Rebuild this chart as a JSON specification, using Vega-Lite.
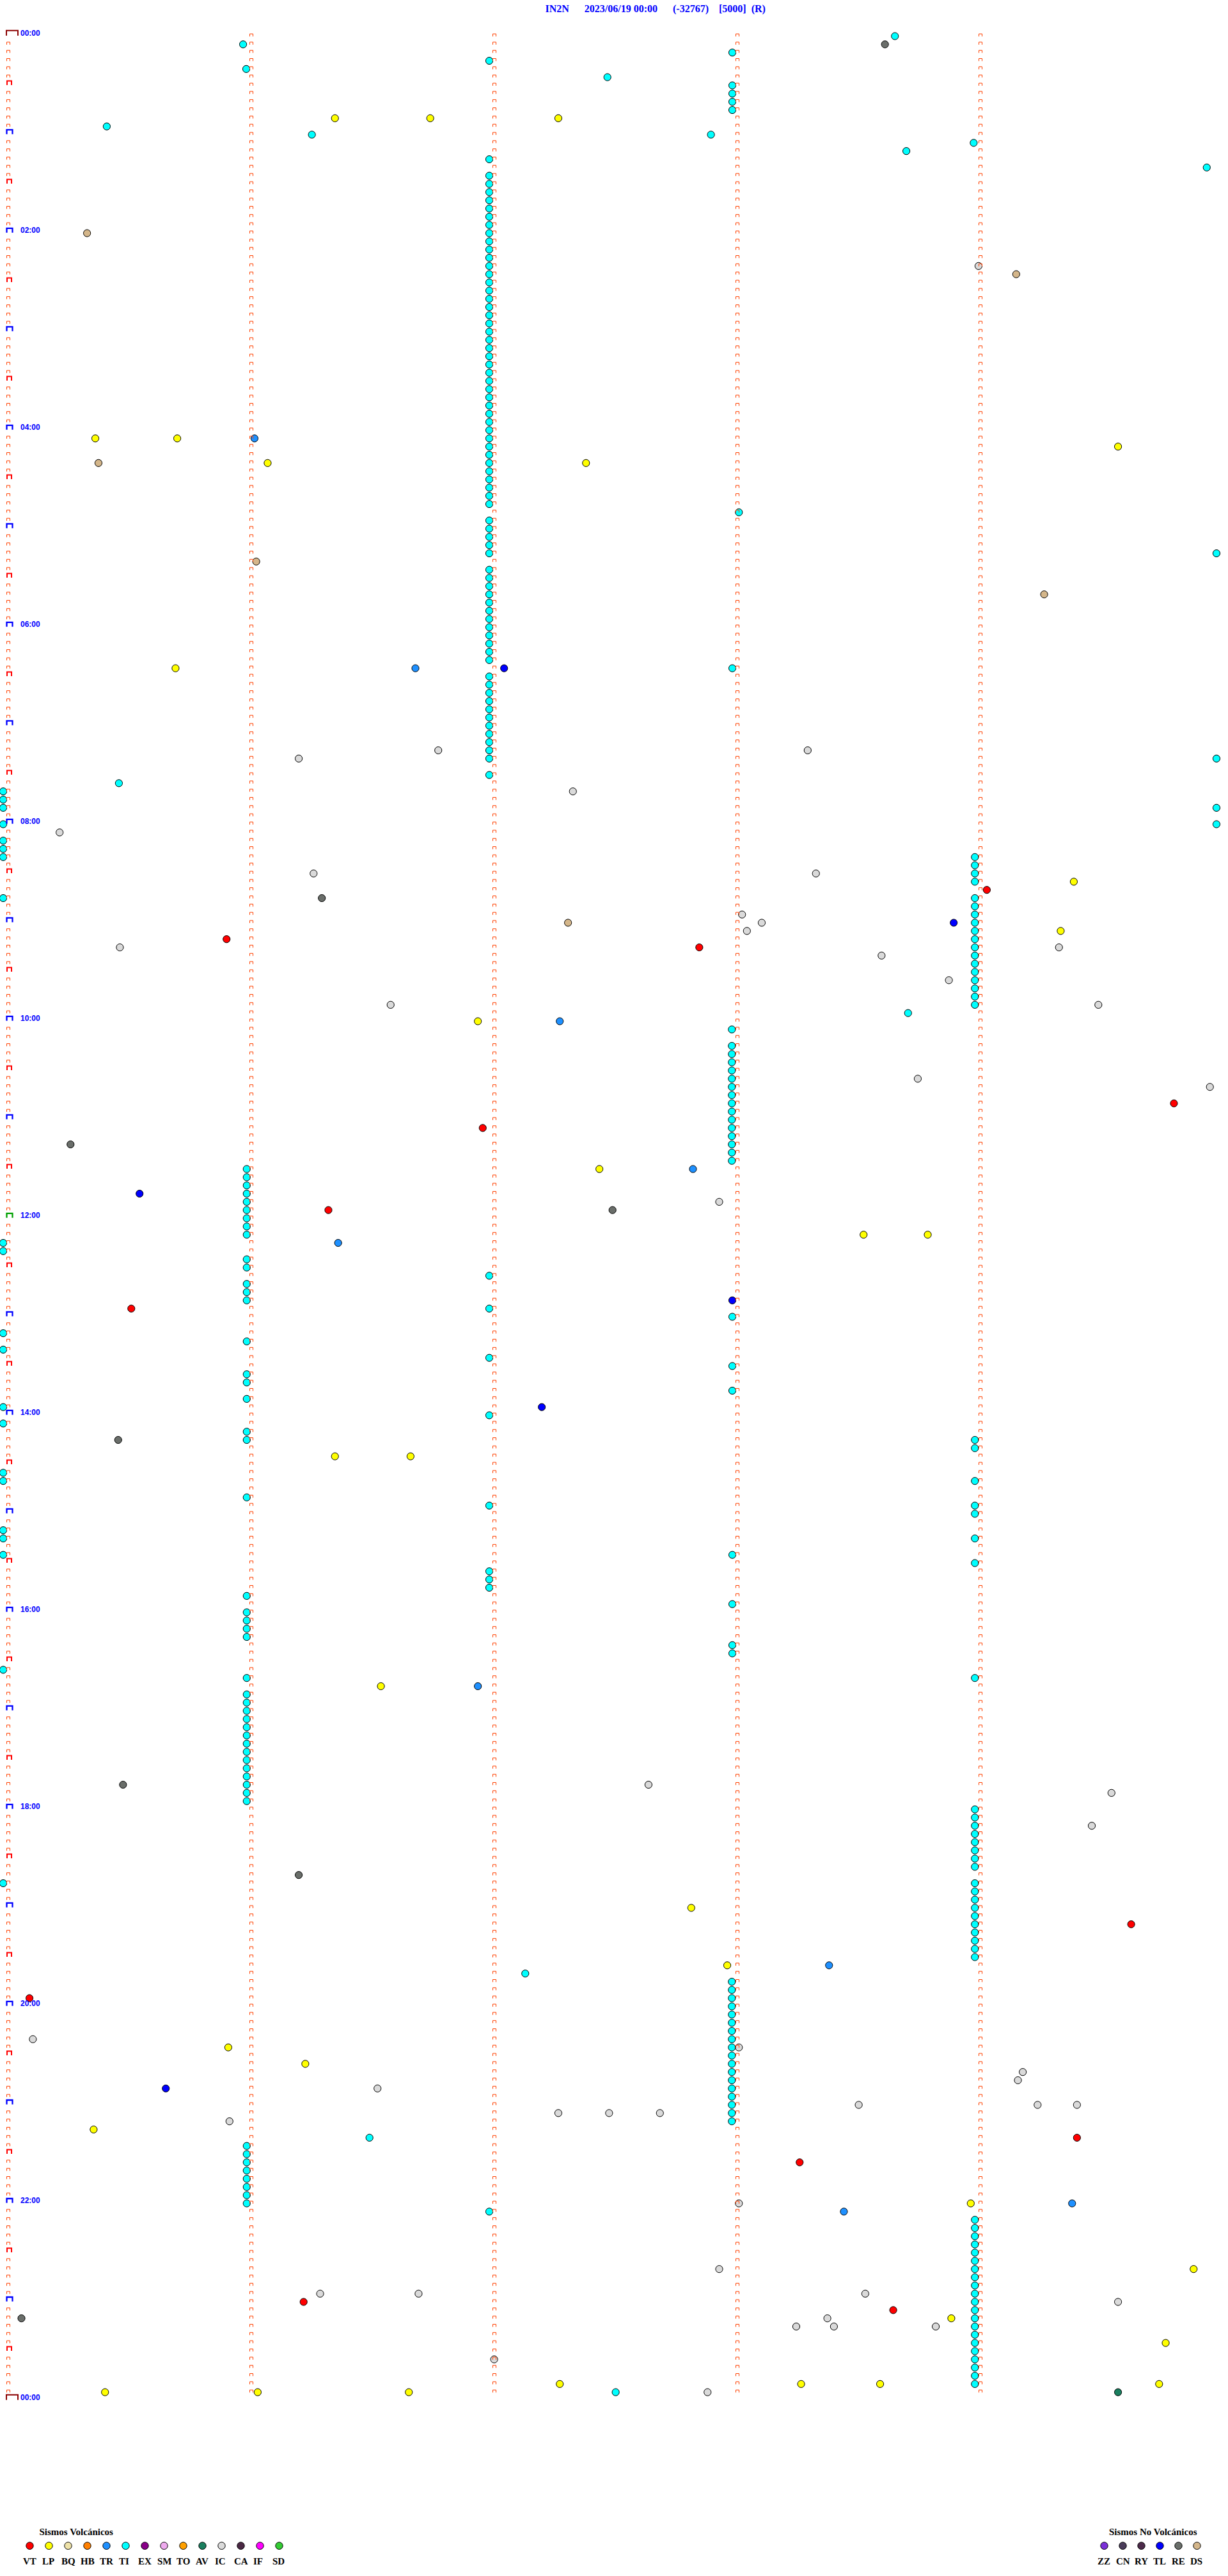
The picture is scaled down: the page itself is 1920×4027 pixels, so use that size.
{
"$schema": "https://vega.github.io/schema/vega-lite/v6.json",
"width": 1920, "height": 4027, "autosize": {"type": "none"}, "padding": 0,
"background": "white",
"config": {"view": {"stroke": null}},
"title": {"text": "IN2N\u00a0\u00a0\u00a0\u00a0\u00a0 2023/06/19 00:00\u00a0\u00a0\u00a0\u00a0\u00a0 (-32767)\u00a0\u00a0\u00a0 [5000]\u00a0 (R)", "anchor": "start", "dx": 855, "offset": -22, "font": "Liberation Serif", "fontSize": 16, "fontWeight": "bold", "color": "#0000ff"},
"datasets": {
"rows": [{"r":0},{"r":1},{"r":2},{"r":3},{"r":4},{"r":5},{"r":6},{"r":7},{"r":8},{"r":9},{"r":10},{"r":11},{"r":12},{"r":13},{"r":14},{"r":15},{"r":16},{"r":17},{"r":18},{"r":19},{"r":20},{"r":21},{"r":22},{"r":23},{"r":24},{"r":25},{"r":26},{"r":27},{"r":28},{"r":29},{"r":30},{"r":31},{"r":32},{"r":33},{"r":34},{"r":35},{"r":36},{"r":37},{"r":38},{"r":39},{"r":40},{"r":41},{"r":42},{"r":43},{"r":44},{"r":45},{"r":46},{"r":47},{"r":48},{"r":49},{"r":50},{"r":51},{"r":52},{"r":53},{"r":54},{"r":55},{"r":56},{"r":57},{"r":58},{"r":59},{"r":60},{"r":61},{"r":62},{"r":63},{"r":64},{"r":65},{"r":66},{"r":67},{"r":68},{"r":69},{"r":70},{"r":71},{"r":72},{"r":73},{"r":74},{"r":75},{"r":76},{"r":77},{"r":78},{"r":79},{"r":80},{"r":81},{"r":82},{"r":83},{"r":84},{"r":85},{"r":86},{"r":87},{"r":88},{"r":89},{"r":90},{"r":91},{"r":92},{"r":93},{"r":94},{"r":95},{"r":96},{"r":97},{"r":98},{"r":99},{"r":100},{"r":101},{"r":102},{"r":103},{"r":104},{"r":105},{"r":106},{"r":107},{"r":108},{"r":109},{"r":110},{"r":111},{"r":112},{"r":113},{"r":114},{"r":115},{"r":116},{"r":117},{"r":118},{"r":119},{"r":120},{"r":121},{"r":122},{"r":123},{"r":124},{"r":125},{"r":126},{"r":127},{"r":128},{"r":129},{"r":130},{"r":131},{"r":132},{"r":133},{"r":134},{"r":135},{"r":136},{"r":137},{"r":138},{"r":139},{"r":140},{"r":141},{"r":142},{"r":143},{"r":144},{"r":145},{"r":146},{"r":147},{"r":148},{"r":149},{"r":150},{"r":151},{"r":152},{"r":153},{"r":154},{"r":155},{"r":156},{"r":157},{"r":158},{"r":159},{"r":160},{"r":161},{"r":162},{"r":163},{"r":164},{"r":165},{"r":166},{"r":167},{"r":168},{"r":169},{"r":170},{"r":171},{"r":172},{"r":173},{"r":174},{"r":175},{"r":176},{"r":177},{"r":178},{"r":179},{"r":180},{"r":181},{"r":182},{"r":183},{"r":184},{"r":185},{"r":186},{"r":187},{"r":188},{"r":189},{"r":190},{"r":191},{"r":192},{"r":193},{"r":194},{"r":195},{"r":196},{"r":197},{"r":198},{"r":199},{"r":200},{"r":201},{"r":202},{"r":203},{"r":204},{"r":205},{"r":206},{"r":207},{"r":208},{"r":209},{"r":210},{"r":211},{"r":212},{"r":213},{"r":214},{"r":215},{"r":216},{"r":217},{"r":218},{"r":219},{"r":220},{"r":221},{"r":222},{"r":223},{"r":224},{"r":225},{"r":226},{"r":227},{"r":228},{"r":229},{"r":230},{"r":231},{"r":232},{"r":233},{"r":234},{"r":235},{"r":236},{"r":237},{"r":238},{"r":239},{"r":240},{"r":241},{"r":242},{"r":243},{"r":244},{"r":245},{"r":246},{"r":247},{"r":248},{"r":249},{"r":250},{"r":251},{"r":252},{"r":253},{"r":254},{"r":255},{"r":256},{"r":257},{"r":258},{"r":259},{"r":260},{"r":261},{"r":262},{"r":263},{"r":264},{"r":265},{"r":266},{"r":267},{"r":268},{"r":269},{"r":270},{"r":271},{"r":272},{"r":273},{"r":274},{"r":275},{"r":276},{"r":277},{"r":278},{"r":279},{"r":280},{"r":281},{"r":282},{"r":283},{"r":284},{"r":285},{"r":286},{"r":287},{"r":288}],
"labels": [{"r":0,"h":"00:00"},{"r":24,"h":"02:00"},{"r":48,"h":"04:00"},{"r":72,"h":"06:00"},{"r":96,"h":"08:00"},{"r":120,"h":"10:00"},{"r":144,"h":"12:00"},{"r":168,"h":"14:00"},{"r":192,"h":"16:00"},{"r":216,"h":"18:00"},{"r":240,"h":"20:00"},{"r":264,"h":"22:00"},{"r":288,"h":"00:00"}],
"events": [
{"r":0,"m":3.648,"t":"TI"},{"r":1,"m":3.607,"t":"RE"},{"r":1,"m":0.966,"t":"TI"},{"r":3,"m":1.979,"t":"TI"},{"r":2,"m":2.979,"t":"TI"},{"r":4,"m":0.979,"t":"TI"},{"r":5,"m":2.465,"t":"TI"},
{"r":6,"m":2.979,"t":"TI"},{"r":7,"m":2.979,"t":"TI"},{"r":8,"m":2.979,"t":"TI"},{"r":9,"m":2.979,"t":"TI"},
{"r":10,"m":1.344,"t":"LP"},{"r":10,"m":1.736,"t":"LP"},{"r":10,"m":2.263,"t":"LP"},{"r":11,"m":0.405,"t":"TI"},{"r":12,"m":1.249,"t":"TI"},{"r":12,"m":2.891,"t":"TI"},{"r":13,"m":3.972,"t":"TI"},{"r":14,"m":3.695,"t":"TI"},{"r":16,"m":4.931,"t":"TI"},
{"r":15,"m":1.979,"t":"TI"},{"r":17,"m":1.979,"t":"TI"},{"r":18,"m":1.979,"t":"TI"},{"r":19,"m":1.979,"t":"TI"},{"r":20,"m":1.979,"t":"TI"},{"r":21,"m":1.979,"t":"TI"},{"r":22,"m":1.979,"t":"TI"},{"r":23,"m":1.979,"t":"TI"},{"r":24,"m":1.979,"t":"TI"},{"r":25,"m":1.979,"t":"TI"},{"r":26,"m":1.979,"t":"TI"},{"r":27,"m":1.979,"t":"TI"},{"r":28,"m":1.979,"t":"TI"},{"r":29,"m":1.979,"t":"TI"},{"r":30,"m":1.979,"t":"TI"},{"r":31,"m":1.979,"t":"TI"},{"r":32,"m":1.979,"t":"TI"},{"r":33,"m":1.979,"t":"TI"},{"r":34,"m":1.979,"t":"TI"},{"r":35,"m":1.979,"t":"TI"},{"r":36,"m":1.979,"t":"TI"},{"r":37,"m":1.979,"t":"TI"},{"r":38,"m":1.979,"t":"TI"},{"r":39,"m":1.979,"t":"TI"},{"r":40,"m":1.979,"t":"TI"},{"r":41,"m":1.979,"t":"TI"},{"r":42,"m":1.979,"t":"TI"},{"r":43,"m":1.979,"t":"TI"},{"r":44,"m":1.979,"t":"TI"},{"r":45,"m":1.979,"t":"TI"},{"r":46,"m":1.979,"t":"TI"},{"r":47,"m":1.979,"t":"TI"},{"r":48,"m":1.979,"t":"TI"},{"r":49,"m":1.979,"t":"TI"},{"r":50,"m":1.979,"t":"TI"},{"r":51,"m":1.979,"t":"TI"},{"r":52,"m":1.979,"t":"TI"},{"r":53,"m":1.979,"t":"TI"},{"r":54,"m":1.979,"t":"TI"},{"r":55,"m":1.979,"t":"TI"},{"r":56,"m":1.979,"t":"TI"},{"r":57,"m":1.979,"t":"TI"},
{"r":59,"m":1.979,"t":"TI"},{"r":60,"m":1.979,"t":"TI"},{"r":61,"m":1.979,"t":"TI"},{"r":62,"m":1.979,"t":"TI"},{"r":63,"m":1.979,"t":"TI"},
{"r":65,"m":1.979,"t":"TI"},{"r":66,"m":1.979,"t":"TI"},{"r":67,"m":1.979,"t":"TI"},{"r":68,"m":1.979,"t":"TI"},{"r":69,"m":1.979,"t":"TI"},{"r":70,"m":1.979,"t":"TI"},{"r":71,"m":1.979,"t":"TI"},{"r":72,"m":1.979,"t":"TI"},{"r":73,"m":1.979,"t":"TI"},{"r":74,"m":1.979,"t":"TI"},{"r":75,"m":1.979,"t":"TI"},{"r":76,"m":1.979,"t":"TI"},
{"r":78,"m":1.979,"t":"TI"},{"r":79,"m":1.979,"t":"TI"},{"r":80,"m":1.979,"t":"TI"},{"r":81,"m":1.979,"t":"TI"},{"r":82,"m":1.979,"t":"TI"},{"r":83,"m":1.979,"t":"TI"},{"r":84,"m":1.979,"t":"TI"},{"r":85,"m":1.979,"t":"TI"},{"r":86,"m":1.979,"t":"TI"},{"r":87,"m":1.979,"t":"TI"},{"r":88,"m":1.979,"t":"TI"},{"r":90,"m":1.979,"t":"TI"},
{"r":24,"m":0.324,"t":"DS"},{"r":28,"m":3.992,"t":"IC"},{"r":29,"m":4.147,"t":"DS"},
{"r":49,"m":0.358,"t":"LP"},{"r":49,"m":0.695,"t":"LP"},{"r":49,"m":1.013,"t":"TR"},{"r":50,"m":4.566,"t":"LP"},
{"r":52,"m":0.371,"t":"DS"},{"r":52,"m":1.067,"t":"LP"},{"r":52,"m":2.377,"t":"LP"},
{"r":58,"m":3.006,"t":"TI"},{"r":63,"m":4.971,"t":"TI"},{"r":64,"m":1.02,"t":"DS"},{"r":68,"m":4.262,"t":"DS"},
{"r":77,"m":0.688,"t":"LP"},{"r":77,"m":1.675,"t":"TR"},{"r":77,"m":2.04,"t":"TL"},{"r":77,"m":2.979,"t":"TI"},
{"r":88,"m":1.195,"t":"IC"},{"r":87,"m":1.769,"t":"IC"},{"r":87,"m":3.289,"t":"IC"},{"r":88,"m":4.971,"t":"TI"},
{"r":91,"m":0.455,"t":"TI"},{"r":92,"m":2.323,"t":"IC"},{"r":94,"m":4.971,"t":"TI"},{"r":96,"m":4.971,"t":"TI"},
{"r":92,"m":-0.021,"t":"TI"},{"r":93,"m":-0.021,"t":"TI"},{"r":94,"m":-0.021,"t":"TI"},{"r":96,"m":-0.021,"t":"TI"},{"r":98,"m":-0.021,"t":"TI"},{"r":99,"m":-0.021,"t":"TI"},{"r":100,"m":-0.021,"t":"TI"},{"r":105,"m":-0.021,"t":"TI"},
{"r":97,"m":0.211,"t":"IC"},
{"r":102,"m":1.256,"t":"IC"},{"r":105,"m":1.29,"t":"RE"},{"r":102,"m":3.323,"t":"IC"},{"r":104,"m":4.026,"t":"VT"},{"r":103,"m":4.384,"t":"LP"},
{"r":100,"m":3.977,"t":"TI"},{"r":101,"m":3.977,"t":"TI"},{"r":102,"m":3.977,"t":"TI"},{"r":103,"m":3.977,"t":"TI"},{"r":105,"m":3.977,"t":"TI"},{"r":106,"m":3.977,"t":"TI"},{"r":107,"m":3.977,"t":"TI"},{"r":108,"m":3.977,"t":"TI"},{"r":109,"m":3.977,"t":"TI"},{"r":110,"m":3.977,"t":"TI"},{"r":111,"m":3.977,"t":"TI"},{"r":112,"m":3.977,"t":"TI"},{"r":113,"m":3.977,"t":"TI"},{"r":114,"m":3.977,"t":"TI"},{"r":115,"m":3.977,"t":"TI"},{"r":116,"m":3.977,"t":"TI"},{"r":117,"m":3.977,"t":"TI"},{"r":118,"m":3.977,"t":"TI"},
{"r":107,"m":3.019,"t":"IC"},{"r":109,"m":3.039,"t":"IC"},{"r":108,"m":3.1,"t":"IC"},{"r":108,"m":2.303,"t":"DS"},{"r":108,"m":3.89,"t":"TL"},{"r":109,"m":4.33,"t":"LP"},
{"r":110,"m":0.898,"t":"VT"},{"r":111,"m":2.843,"t":"VT"},{"r":111,"m":0.459,"t":"IC"},{"r":112,"m":3.593,"t":"IC"},{"r":111,"m":4.323,"t":"IC"},{"r":115,"m":3.87,"t":"IC"},
{"r":118,"m":1.573,"t":"IC"},{"r":118,"m":4.485,"t":"IC"},{"r":119,"m":3.702,"t":"TI"},{"r":120,"m":1.932,"t":"LP"},{"r":120,"m":2.269,"t":"TR"},
{"r":121,"m":2.977,"t":"TI"},{"r":123,"m":2.977,"t":"TI"},{"r":124,"m":2.977,"t":"TI"},{"r":125,"m":2.977,"t":"TI"},{"r":126,"m":2.977,"t":"TI"},{"r":127,"m":2.977,"t":"TI"},{"r":128,"m":2.977,"t":"TI"},{"r":129,"m":2.977,"t":"TI"},{"r":130,"m":2.977,"t":"TI"},{"r":131,"m":2.977,"t":"TI"},{"r":132,"m":2.977,"t":"TI"},{"r":133,"m":2.977,"t":"TI"},{"r":134,"m":2.977,"t":"TI"},{"r":135,"m":2.977,"t":"TI"},{"r":136,"m":2.977,"t":"TI"},{"r":137,"m":2.977,"t":"TI"},
{"r":127,"m":3.742,"t":"IC"},{"r":128,"m":4.944,"t":"IC"},{"r":130,"m":4.796,"t":"VT"},{"r":133,"m":1.952,"t":"VT"},{"r":135,"m":0.256,"t":"RE"},
{"r":138,"m":2.432,"t":"LP"},{"r":138,"m":2.817,"t":"TR"},
{"r":138,"m":0.981,"t":"TI"},{"r":139,"m":0.981,"t":"TI"},{"r":140,"m":0.981,"t":"TI"},{"r":141,"m":0.981,"t":"TI"},{"r":142,"m":0.981,"t":"TI"},{"r":143,"m":0.981,"t":"TI"},{"r":144,"m":0.981,"t":"TI"},{"r":145,"m":0.981,"t":"TI"},{"r":146,"m":0.981,"t":"TI"},{"r":149,"m":0.981,"t":"TI"},{"r":150,"m":0.981,"t":"TI"},{"r":152,"m":0.981,"t":"TI"},{"r":153,"m":0.981,"t":"TI"},{"r":154,"m":0.981,"t":"TI"},{"r":159,"m":0.981,"t":"TI"},{"r":163,"m":0.981,"t":"TI"},{"r":164,"m":0.981,"t":"TI"},{"r":166,"m":0.981,"t":"TI"},{"r":170,"m":0.981,"t":"TI"},{"r":171,"m":0.981,"t":"TI"},{"r":178,"m":0.981,"t":"TI"},{"r":190,"m":0.981,"t":"TI"},{"r":192,"m":0.981,"t":"TI"},{"r":193,"m":0.981,"t":"TI"},{"r":194,"m":0.981,"t":"TI"},{"r":195,"m":0.981,"t":"TI"},
{"r":200,"m":0.981,"t":"TI"},{"r":202,"m":0.981,"t":"TI"},{"r":203,"m":0.981,"t":"TI"},{"r":204,"m":0.981,"t":"TI"},{"r":205,"m":0.981,"t":"TI"},{"r":206,"m":0.981,"t":"TI"},{"r":207,"m":0.981,"t":"TI"},{"r":208,"m":0.981,"t":"TI"},{"r":209,"m":0.981,"t":"TI"},{"r":210,"m":0.981,"t":"TI"},{"r":211,"m":0.981,"t":"TI"},{"r":212,"m":0.981,"t":"TI"},{"r":213,"m":0.981,"t":"TI"},{"r":214,"m":0.981,"t":"TI"},{"r":215,"m":0.981,"t":"TI"},
{"r":257,"m":0.981,"t":"TI"},{"r":258,"m":0.981,"t":"TI"},{"r":259,"m":0.981,"t":"TI"},{"r":260,"m":0.981,"t":"TI"},{"r":261,"m":0.981,"t":"TI"},{"r":262,"m":0.981,"t":"TI"},{"r":263,"m":0.981,"t":"TI"},{"r":264,"m":0.981,"t":"TI"},
{"r":141,"m":0.54,"t":"TL"},{"r":142,"m":2.925,"t":"IC"},{"r":143,"m":1.317,"t":"VT"},{"r":143,"m":2.486,"t":"RE"},
{"r":147,"m":-0.021,"t":"TI"},{"r":148,"m":-0.021,"t":"TI"},{"r":147,"m":1.357,"t":"TR"},{"r":146,"m":3.519,"t":"LP"},{"r":146,"m":3.783,"t":"LP"},
{"r":151,"m":1.979,"t":"TI"},{"r":155,"m":0.506,"t":"VT"},{"r":155,"m":1.979,"t":"TI"},{"r":154,"m":2.979,"t":"TL"},{"r":156,"m":2.979,"t":"TI"},
{"r":158,"m":-0.021,"t":"TI"},{"r":160,"m":-0.021,"t":"TI"},{"r":161,"m":1.979,"t":"TI"},{"r":162,"m":2.979,"t":"TI"},{"r":165,"m":2.979,"t":"TI"},
{"r":167,"m":2.195,"t":"TL"},{"r":168,"m":1.979,"t":"TI"},{"r":167,"m":-0.021,"t":"TI"},{"r":169,"m":-0.021,"t":"TI"},
{"r":171,"m":0.452,"t":"RE"},{"r":171,"m":3.977,"t":"TI"},{"r":172,"m":3.977,"t":"TI"},{"r":173,"m":1.344,"t":"LP"},{"r":173,"m":1.655,"t":"LP"},
{"r":175,"m":-0.021,"t":"TI"},{"r":176,"m":-0.021,"t":"TI"},{"r":176,"m":3.977,"t":"TI"},{"r":179,"m":1.979,"t":"TI"},{"r":179,"m":3.977,"t":"TI"},{"r":180,"m":3.977,"t":"TI"},
{"r":182,"m":-0.021,"t":"TI"},{"r":183,"m":-0.021,"t":"TI"},{"r":183,"m":3.977,"t":"TI"},{"r":185,"m":-0.021,"t":"TI"},{"r":185,"m":2.979,"t":"TI"},{"r":186,"m":3.977,"t":"TI"},
{"r":187,"m":1.979,"t":"TI"},{"r":188,"m":1.979,"t":"TI"},{"r":189,"m":1.979,"t":"TI"},{"r":191,"m":2.979,"t":"TI"},{"r":196,"m":2.979,"t":"TI"},{"r":197,"m":2.979,"t":"TI"},
{"r":199,"m":-0.021,"t":"TI"},{"r":200,"m":3.977,"t":"TI"},{"r":201,"m":1.533,"t":"LP"},{"r":201,"m":1.932,"t":"TR"},
{"r":213,"m":0.472,"t":"RE"},{"r":213,"m":2.634,"t":"IC"},{"r":214,"m":4.539,"t":"IC"},{"r":218,"m":4.458,"t":"IC"},
{"r":216,"m":3.977,"t":"TI"},{"r":217,"m":3.977,"t":"TI"},{"r":218,"m":3.977,"t":"TI"},{"r":219,"m":3.977,"t":"TI"},{"r":220,"m":3.977,"t":"TI"},{"r":221,"m":3.977,"t":"TI"},{"r":222,"m":3.977,"t":"TI"},{"r":223,"m":3.977,"t":"TI"},
{"r":225,"m":3.977,"t":"TI"},{"r":226,"m":3.977,"t":"TI"},{"r":227,"m":3.977,"t":"TI"},{"r":228,"m":3.977,"t":"TI"},{"r":229,"m":3.977,"t":"TI"},{"r":230,"m":3.977,"t":"TI"},{"r":231,"m":3.977,"t":"TI"},{"r":232,"m":3.977,"t":"TI"},{"r":233,"m":3.977,"t":"TI"},{"r":234,"m":3.977,"t":"TI"},
{"r":224,"m":1.195,"t":"RE"},{"r":225,"m":-0.021,"t":"TI"},{"r":228,"m":2.81,"t":"LP"},{"r":230,"m":4.62,"t":"VT"},
{"r":235,"m":2.958,"t":"LP"},{"r":235,"m":3.377,"t":"TR"},{"r":236,"m":2.127,"t":"TI"},
{"r":237,"m":2.977,"t":"TI"},{"r":238,"m":2.977,"t":"TI"},{"r":239,"m":2.977,"t":"TI"},{"r":240,"m":2.977,"t":"TI"},{"r":241,"m":2.977,"t":"TI"},{"r":242,"m":2.977,"t":"TI"},{"r":243,"m":2.977,"t":"TI"},{"r":244,"m":2.977,"t":"TI"},{"r":245,"m":2.977,"t":"TI"},{"r":246,"m":2.977,"t":"TI"},{"r":247,"m":2.977,"t":"TI"},{"r":248,"m":2.977,"t":"TI"},{"r":249,"m":2.977,"t":"TI"},{"r":250,"m":2.977,"t":"TI"},{"r":251,"m":2.977,"t":"TI"},{"r":252,"m":2.977,"t":"TI"},{"r":253,"m":2.977,"t":"TI"},{"r":254,"m":2.977,"t":"TI"},
{"r":239,"m":0.087,"t":"VT"},{"r":244,"m":0.101,"t":"IC"},{"r":245,"m":3.006,"t":"IC"},{"r":245,"m":0.905,"t":"LP"},{"r":247,"m":1.222,"t":"LP"},{"r":248,"m":4.174,"t":"IC"},{"r":249,"m":4.154,"t":"IC"},
{"r":250,"m":0.648,"t":"TL"},{"r":250,"m":1.519,"t":"IC"},{"r":252,"m":3.499,"t":"IC"},{"r":252,"m":4.235,"t":"IC"},{"r":252,"m":4.397,"t":"IC"},
{"r":254,"m":0.91,"t":"IC"},{"r":253,"m":2.263,"t":"IC"},{"r":253,"m":2.472,"t":"IC"},{"r":253,"m":2.681,"t":"IC"},
{"r":255,"m":0.351,"t":"LP"},{"r":256,"m":1.486,"t":"TI"},{"r":256,"m":4.397,"t":"VT"},{"r":259,"m":3.256,"t":"VT"},
{"r":264,"m":3.006,"t":"IC"},{"r":265,"m":1.979,"t":"TI"},{"r":265,"m":3.438,"t":"TR"},{"r":264,"m":3.96,"t":"LP"},{"r":264,"m":4.377,"t":"TR"},
{"r":266,"m":3.977,"t":"TI"},{"r":267,"m":3.977,"t":"TI"},{"r":268,"m":3.977,"t":"TI"},{"r":269,"m":3.977,"t":"TI"},{"r":270,"m":3.977,"t":"TI"},{"r":271,"m":3.977,"t":"TI"},{"r":272,"m":3.977,"t":"TI"},{"r":273,"m":3.977,"t":"TI"},{"r":274,"m":3.977,"t":"TI"},{"r":275,"m":3.977,"t":"TI"},{"r":276,"m":3.977,"t":"TI"},{"r":277,"m":3.977,"t":"TI"},{"r":278,"m":3.977,"t":"TI"},{"r":279,"m":3.977,"t":"TI"},{"r":280,"m":3.977,"t":"TI"},{"r":281,"m":3.977,"t":"TI"},{"r":282,"m":3.977,"t":"TI"},{"r":283,"m":3.977,"t":"TI"},{"r":284,"m":3.977,"t":"TI"},{"r":285,"m":3.977,"t":"TI"},{"r":286,"m":3.977,"t":"TI"},
{"r":272,"m":4.877,"t":"LP"},{"r":272,"m":2.925,"t":"IC"},{"r":275,"m":1.283,"t":"IC"},{"r":275,"m":1.688,"t":"IC"},{"r":276,"m":1.215,"t":"VT"},{"r":275,"m":3.526,"t":"IC"},{"r":276,"m":4.566,"t":"IC"},
{"r":278,"m":0.054,"t":"RE"},{"r":277,"m":3.641,"t":"VT"},{"r":278,"m":3.37,"t":"IC"},{"r":279,"m":3.397,"t":"IC"},{"r":279,"m":3.242,"t":"IC"},{"r":279,"m":3.816,"t":"IC"},
{"r":278,"m":3.88,"t":"LP"},{"r":281,"m":4.762,"t":"LP"},{"r":283,"m":1.999,"t":"IC"},
{"r":287,"m":0.398,"t":"LP"},{"r":287,"m":1.026,"t":"LP"},{"r":287,"m":1.648,"t":"LP"},{"r":286,"m":2.269,"t":"LP"},{"r":287,"m":2.499,"t":"TI"},{"r":287,"m":2.877,"t":"IC"},{"r":286,"m":3.262,"t":"LP"},{"r":286,"m":3.587,"t":"LP"},{"r":287,"m":4.566,"t":"AV"},{"r":286,"m":4.735,"t":"LP"}
]
},
"encoding": {
  "y": {"field": "r", "type": "quantitative", "scale": {"domain": [-4.2857, 309.506], "reverse": true, "nice": false, "zero": false}, "axis": null}
},
"layer": [
  {"data": {"name": "events"}, "transform": [{"filter": {"field": "t", "oneOf": ["VT","LP","BQ","HB","TR","TI","EX","SM","TO","AV","IC","CA","IF","SD"]}}],
   "mark": {"type": "point", "shape": "circle", "filled": true, "size": 125, "stroke": "black", "strokeWidth": 1, "opacity": 1, "yOffset": 1.5},
   "encoding": {
     "x": {"field": "m", "type": "quantitative", "scale": {"domain": [-0.034211, 5.018421], "nice": false, "zero": false}, "axis": null},
     "fill": {"field": "t", "type": "nominal",
     "scale": {"domain": ["VT","LP","BQ","HB","TR","TI","EX","SM","TO","AV","IC","CA","IF","SD"], "range": ["#ff0000","#ffff00","#eee2a8","#ff8000","#1e90ff","#00ffff","#880088","#eeaaee","#ffa000","#1a7f5f","#dadada","#4a2844","#ff00ff","#33cc33"]},
     "legend": {"orient": "none", "legendX": 39, "legendY": 3951, "direction": "horizontal", "columns": 14, "padding": 0,
       "title": "\u200b\u00a0\u00a0\u00a0\u00a0\u00a0\u00a0Sismos Volcánicos", "titleFont": "Liberation Serif", "titleFontSize": 15, "titleFontWeight": "bold", "titleColor": "black", "titlePadding": 6, "titleAnchor": "start",
       "symbolType": "circle", "symbolSize": 130, "symbolStrokeColor": "black", "symbolStrokeWidth": 1, "symbolOpacity": 1,
       "labelExpr": "['', datum.label]", "labelAlign": "left", "labelBaseline": "top", "labelOffset": -18, "labelFont": "Liberation Serif", "labelFontSize": 15, "labelFontWeight": "bold", "labelColor": "black",
       "gridAlign": "all", "columnPadding": 7, "rowPadding": 0}}}},
  {"data": {"name": "events"}, "transform": [{"filter": {"field": "t", "oneOf": ["ZZ","CN","RY","TL","RE","DS"]}}],
   "mark": {"type": "point", "shape": "circle", "filled": true, "size": 125, "stroke": "black", "strokeWidth": 1, "opacity": 1, "yOffset": 1.5},
   "encoding": {
     "x": {"field": "m", "type": "quantitative", "scale": {"domain": [-0.034211, 5.018421], "nice": false, "zero": false}, "axis": null},
     "fill": {"field": "t", "type": "nominal",
     "scale": {"domain": ["ZZ","CN","RY","TL","RE","DS"], "range": ["#7b30d8","#4a3c5a","#4c2a4a","#0000ff","#6a6e6a","#d4b68a"]},
     "legend": {"orient": "none", "legendX": 1719, "legendY": 3951, "direction": "horizontal", "columns": 6, "padding": 0,
       "title": "\u200b\u00a0\u00a0\u00a0\u00a0Sismos No Volcánicos", "titleFont": "Liberation Serif", "titleFontSize": 15, "titleFontWeight": "bold", "titleColor": "black", "titlePadding": 6, "titleAnchor": "start",
       "symbolType": "circle", "symbolSize": 130, "symbolStrokeColor": "black", "symbolStrokeWidth": 1, "symbolOpacity": 1,
       "labelExpr": "['', datum.label]", "labelAlign": "left", "labelBaseline": "top", "labelOffset": -18, "labelFont": "Liberation Serif", "labelFontSize": 15, "labelFontWeight": "bold", "labelColor": "black",
       "gridAlign": "all", "columnPadding": 7, "rowPadding": 0}}}},
  {"data": {"name": "rows"}, "transform": [{"filter": "datum.r < 288"}],
   "mark": {"type": "point", "shape": "M-1,0.8V-0.8H1V0.8", "filled": false, "size": 25, "color": "#ff4000", "strokeWidth": 1, "opacity": 1},
   "encoding": {"x": {"datum": 1, "type": "quantitative"}}},
  {"data": {"name": "rows"}, "transform": [{"filter": "datum.r < 288"}],
   "mark": {"type": "point", "shape": "M-1,0.8V-0.8H1V0.8", "filled": false, "size": 25, "color": "#ff4000", "strokeWidth": 1, "opacity": 1},
   "encoding": {"x": {"datum": 2, "type": "quantitative"}}},
  {"data": {"name": "rows"}, "transform": [{"filter": "datum.r < 288"}],
   "mark": {"type": "point", "shape": "M-1,0.8V-0.8H1V0.8", "filled": false, "size": 25, "color": "#ff4000", "strokeWidth": 1, "opacity": 1},
   "encoding": {"x": {"datum": 3, "type": "quantitative"}}},
  {"data": {"name": "rows"}, "transform": [{"filter": "datum.r < 288"}],
   "mark": {"type": "point", "shape": "M-1,0.8V-0.8H1V0.8", "filled": false, "size": 25, "color": "#ff4000", "strokeWidth": 1, "opacity": 1},
   "encoding": {"x": {"datum": 4, "type": "quantitative"}}},
  {"data": {"name": "rows"}, "transform": [{"filter": "datum.r % 6 != 0"}],
   "mark": {"type": "point", "shape": "M-1,0.8V-0.8H1V0.8", "filled": false, "size": 25, "color": "#ff4000", "strokeWidth": 1, "opacity": 1},
   "encoding": {"x": {"datum": 0, "type": "quantitative"}}},
  {"data": {"name": "rows"}, "transform": [{"filter": "datum.r % 12 == 6"}],
   "mark": {"type": "point", "shape": "M-1,0.95V-0.95H1V0.95", "filled": false, "size": 49, "color": "#ff0000", "strokeWidth": 2, "opacity": 1, "xOffset": 1.5, "yOffset": -2.3},
   "encoding": {"x": {"datum": 0, "type": "quantitative"}}},
  {"data": {"name": "rows"}, "transform": [{"filter": "datum.r % 12 == 0 && datum.r != 0 && datum.r != 288 && datum.r != 144"}],
   "mark": {"type": "point", "shape": "M-1,0.74V-0.74H1V0.74", "filled": false, "size": 81, "color": "#0000ff", "strokeWidth": 2.3, "opacity": 1, "xOffset": 2, "yOffset": -2.7},
   "encoding": {"x": {"datum": 0, "type": "quantitative"}}},
  {"data": {"name": "rows"}, "transform": [{"filter": "datum.r == 144"}],
   "mark": {"type": "point", "shape": "M-1,0.74V-0.74H1V0.74", "filled": false, "size": 81, "color": "#00a000", "strokeWidth": 2.3, "opacity": 1, "xOffset": 2, "yOffset": -2.7},
   "encoding": {"x": {"datum": 0, "type": "quantitative"}}},
  {"data": {"name": "rows"}, "transform": [{"filter": "datum.r == 0 || datum.r == 288"}],
   "mark": {"type": "point", "shape": "M-1,0.44V-0.44H1V0.44", "filled": false, "size": 324, "color": "#8b0000", "strokeWidth": 2, "opacity": 1, "xOffset": 6, "yOffset": -3.3},
   "encoding": {"x": {"datum": 0, "type": "quantitative"}}},
  {"data": {"name": "labels"},
   "mark": {"type": "text", "align": "left", "baseline": "middle", "dx": 19, "dy": -3, "font": "Liberation Sans", "fontSize": 12, "fontWeight": "bold", "color": "#0000ff"},
   "encoding": {"x": {"datum": 0, "type": "quantitative"}, "text": {"field": "h"}}}
],
"resolve": {"scale": {"fill": "independent"}, "legend": {"fill": "independent"}}
}
